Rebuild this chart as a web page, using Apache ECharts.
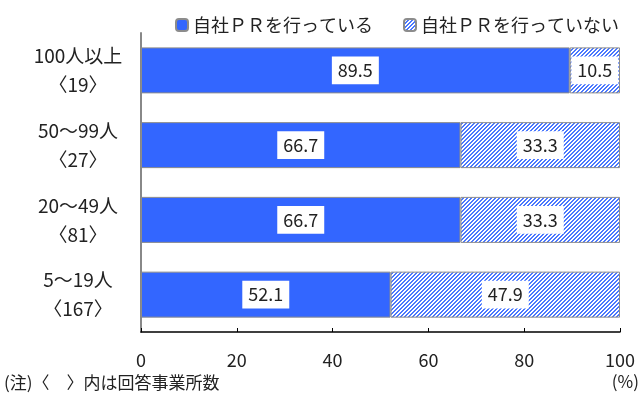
<!DOCTYPE html>
<html>
<head>
<meta charset="utf-8">
<script src="https://cdn.jsdelivr.net/npm/echarts@6/dist/echarts.min.js"></script>
<style>
  html, body { margin: 0; padding: 0; background: #fff; }
  #chart { width: 639px; height: 401px; }
</style>
</head>
<body>
<div id="chart"></div>
<script>
// Establishment-size groups and their respondent counts
const sizeGroups = ['100人以上', '50〜99人', '20〜49人', '5〜19人'];
const respondentCounts = [19, 27, 81, 167];
// Share of establishments (%)
const doesPR = [89.5, 66.7, 66.7, 52.1];
const doesNotPR = [10.5, 33.3, 33.3, 47.9];
const seriesNames = ['自社ＰＲを行っている', '自社ＰＲを行っていない'];
const xTicks = [0, 20, 40, 60, 80, 100];

const FONT = '"Noto Sans CJK JP", "Noto Sans", sans-serif';
const BLUE = '#3366ff';
const CAT_FONT_SIZE = 19;

// Diagonal hatch tile for the second series
function makeHatch() {
  const c = document.createElement('canvas');
  const n = 4;
  c.width = n; c.height = n;
  const ctx = c.getContext('2d');
  ctx.fillStyle = '#ffffff';
  ctx.fillRect(0, 0, n, n);
  ctx.fillStyle = '#4a78ff';
  for (let x = 0; x < n; x++) {
    for (let y = 0; y < n; y++) {
      if ((x + y) % n < 2) ctx.fillRect(x, y, 1, 1);
    }
  }
  return c;
}
const hatch = { image: makeHatch(), repeat: 'repeat' };

// Two-line category labels: group name over respondent count, centred
const categories = sizeGroups.map((g, i) => g + '\n〈' + respondentCounts[i] + '〉');

const chart = echarts.init(document.getElementById('chart'), null, { renderer: 'canvas' });

const valueLabel = {
  show: true,
  position: 'inside',
  color: '#222',
  fontFamily: FONT,
  fontSize: 18,
  backgroundColor: '#ffffff',
  padding: [5, 6, 5, 6],
  formatter: p => p.value.toFixed(1)
};

chart.setOption({
  animation: false,
  textStyle: { fontFamily: FONT },
  legend: {
    top: 11,
    left: 170,
    itemWidth: 12,
    itemHeight: 12,
    itemGap: 30,
    textStyle: { fontFamily: FONT, fontSize: 18, color: '#222' },
    data: seriesNames
  },
  grid: { left: 141, right: 19, top: 33, bottom: 69, containLabel: false },
  xAxis: {
    type: 'value',
    min: 0,
    max: 100,
    interval: 20,
    axisLine: { show: true, lineStyle: { color: '#000', width: 1.5 } },
    axisTick: { show: true, inside: true, length: 4, lineStyle: { color: '#000', width: 1 } },
    splitLine: { show: false },
    axisLabel: {
      margin: 19,
      fontFamily: FONT,
      fontSize: 18,
      color: '#222',
      formatter: v => (xTicks.indexOf(v) >= 0 ? String(v) : '')
    }
  },
  yAxis: {
    type: 'category',
    inverse: true,
    data: categories,
    axisLine: { show: true, lineStyle: { color: '#888', width: 2 } },
    axisTick: { show: false },
    axisLabel: {
      margin: 63,
      align: 'center',
      fontFamily: FONT,
      fontSize: CAT_FONT_SIZE,
      color: '#222',
      lineHeight: 29
    }
  },
  series: [
    {
      name: seriesNames[0],
      type: 'bar',
      stack: 'total',
      barWidth: 46,
      data: doesPR,
      itemStyle: { color: BLUE, borderColor: '#8c8c8c', borderWidth: 1 },
      label: valueLabel
    },
    {
      name: seriesNames[1],
      type: 'bar',
      stack: 'total',
      barWidth: 46,
      data: doesNotPR,
      itemStyle: { color: hatch, borderColor: '#8c8c8c', borderWidth: 1 },
      label: valueLabel
    }
  ],
  graphic: [
    {
      type: 'text',
      left: 4,
      top: 374,
      style: { text: '(注)〈　〉内は回答事業所数', font: '17px ' + FONT, fill: '#222' }
    },
    {
      type: 'text',
      right: 0,
      top: 373,
      style: { text: '(%)', font: '17px ' + FONT, fill: '#222' }
    }
  ]
});
</script>
</body>
</html>
